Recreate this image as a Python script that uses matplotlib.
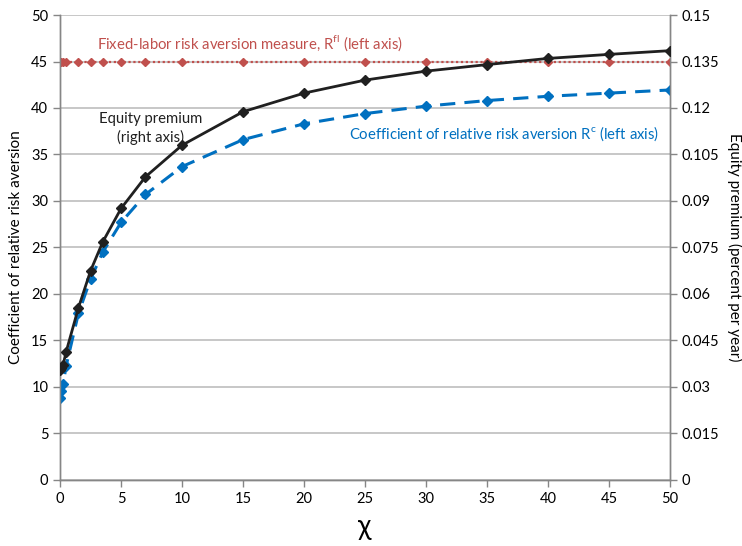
import matplotlib
matplotlib.use("Agg")
import matplotlib.pyplot as plt

plt.rcParams['font.family'] = ['Lato', 'DejaVu Sans']
plt.rcParams['mathtext.fontset'] = 'custom'
plt.rcParams['mathtext.rm'] = 'Lato'

# chi values shared by the three series
chi = [0, 0.1, 0.25, 0.5, 1.5, 2.5, 3.5, 5, 7, 10, 15, 20, 25, 30, 35, 40, 45, 50]

# fixed-labor risk aversion (left axis)
r_fl = [45] * len(chi)
# coefficient of relative risk aversion R^c (left axis)
r_c = [8.8, 9.6, 10.3, 12.3, 17.9, 21.6, 24.5, 27.7, 30.7, 33.7,
       36.6, 38.3, 39.4, 40.2, 40.8, 41.26, 41.6, 41.94]
# equity premium (right axis)
eq_prem = [0.0354, 0.0360, 0.0372, 0.0414, 0.0555, 0.0675, 0.0768, 0.0876, 0.0978, 0.1080,
           0.1188, 0.1248, 0.1290, 0.1319, 0.1340, 0.1360, 0.1373, 0.1385]

left_ticks = list(range(0, 51, 5))
right_ticks = [0, 0.015, 0.03, 0.045, 0.06, 0.075, 0.09, 0.105, 0.12, 0.135, 0.15]
right_labels = ['0', '0.015', '0.03', '0.045', '0.06', '0.075', '0.09', '0.105', '0.12', '0.135', '0.15']

red = '#C0504D'
blue = '#0070C0'
black = '#202020'
gray = '#868686'

fig = plt.figure(figsize=(7.42, 5.46), dpi=100)
ax = fig.add_axes([0.081, 0.121, 0.822, 0.8515])
ax2 = ax.twinx()

ax.plot(chi, r_fl, color=red, ls=(0, (1, 1.2)), lw=1.6, marker='D', ms=4.5, zorder=3)
ax.plot(chi, r_c, color=blue, ls=(0, (5, 3)), lw=2.2, marker='D', ms=5, zorder=3)
ax2.plot(chi, eq_prem, color=black, ls='-', lw=2.0, marker='D', ms=5, zorder=4)

ax.set_xlim(0, 50)
ax.set_ylim(0, 50)
ax2.set_ylim(0, 0.15)
ax.set_xticks(left_ticks)
ax.set_yticks(left_ticks)
ax2.set_yticks(right_ticks)
ax2.set_yticklabels(right_labels)

ax.grid(axis='y', color='#BEBEBE', lw=1.2)
ax.set_axisbelow(True)

for a in (ax, ax2):
    for s in a.spines.values():
        s.set_color(gray)
        s.set_linewidth(1.0)
    a.spines['top'].set_visible(False)
    a.tick_params(colors=gray, length=5, width=1.0, labelcolor='black', labelsize=10.5)

ax.set_xlabel('χ', fontsize=20, labelpad=6)
ax.set_ylabel('Coefficient of relative risk aversion', fontsize=11, labelpad=6)
ax2.set_ylabel('Equity premium (percent per year)', fontsize=11, rotation=270, labelpad=16)

ax.text(15.6, 47.0, r'Fixed-labor risk aversion measure, R$^{\mathrm{fl}}$ (left axis)',
        color=red, fontsize=10.7, ha='center', va='center')
ax.text(7.4, 37.8, 'Equity premium\n(right axis)', color=black, fontsize=10.7,
        ha='center', va='center', linespacing=1.3)
ax.text(36.4, 37.2, r'Coefficient of relative risk aversion R$^{\mathrm{c}}$ (left axis)',
        color=blue, fontsize=10.7, ha='center', va='center')

fig.savefig('out.png', dpi=100)
